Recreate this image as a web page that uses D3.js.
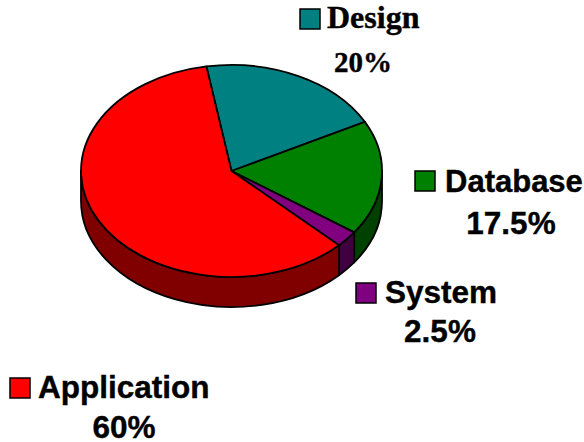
<!DOCTYPE html>
<html><head><meta charset="utf-8">
<script src="https://cdn.jsdelivr.net/npm/d3@7"></script>
<style>html,body{margin:0;padding:0;background:#fff;}svg{display:block;}</style>
</head><body>
<script>
const categories = ["Design", "Database", "System", "Application"];
const values = [20, 17.5, 2.5, 60];
const percentLabels = ["20%", "17.5%", "2.5%", "60%"];
const topColors = ["#008080", "#008000", "#800080", "#FF0000"];
const sideColors = ["#004040", "#004000", "#400040", "#800000"];

// label layout (styling, not data)
const serif = "'Liberation Serif','Times New Roman',serif";
const sans = "'Liberation Sans',Arial,sans-serif";
const labelLayout = [
  {sq:[300,9], tx:327, ty:28, px:363, py:72, font:serif, fs:32, pfs:29},
  {sq:[415,171], tx:445, ty:192, px:511, py:234, font:sans, fs:31, pfs:31.5},
  {sq:[356,283], tx:385, ty:303, px:440, py:342, font:sans, fs:31.5, pfs:31.5},
  {sq:[10,378], tx:38, ty:398, px:124, py:438, font:sans, fs:31.5, pfs:31.5}
];

const W = 584, H = 442;
const cx = 231.5, cy = 171, rx = 150.5, ry = 106, depth = 30;
const start = -9.6 * Math.PI / 180;

const svg = d3.select("body").append("svg").attr("width", W).attr("height", H);

const pie = d3.pie().sort(null).value(d => d).startAngle(start).endAngle(start + 2 * Math.PI);
const arcs = pie(values);

const pt = (a, dy = 0) => [cx + rx * Math.sin(a), cy - ry * Math.cos(a) + dy];
const P = p => p[0].toFixed(2) + "," + p[1].toFixed(2);

// side walls
const g = svg.append("g");
arcs.forEach((d, i) => {
  const lo = Math.max(d.startAngle, Math.PI / 2);
  const hi = Math.min(d.endAngle, 3 * Math.PI / 2);
  if (lo >= hi) return;
  const path = `M${P(pt(lo))}A${rx},${ry} 0 0 1 ${P(pt(hi))}L${P(pt(hi, depth))}A${rx},${ry} 0 0 0 ${P(pt(lo, depth))}Z`;
  g.append("path").attr("d", path).attr("fill", sideColors[i])
    .attr("stroke", "#000").attr("stroke-width", 1.8).attr("stroke-linejoin", "round");
});

// top faces
arcs.forEach((d, i) => {
  const large = (d.endAngle - d.startAngle) > Math.PI ? 1 : 0;
  const path = `M${cx},${cy}L${P(pt(d.startAngle))}A${rx},${ry} 0 ${large} 1 ${P(pt(d.endAngle))}Z`;
  g.append("path").attr("d", path).attr("fill", topColors[i])
    .attr("stroke", "#000").attr("stroke-width", 1.8).attr("stroke-linejoin", "round");
});

// labels
categories.forEach((c, i) => {
  const L = labelLayout[i];
  svg.append("rect").attr("x", L.sq[0]).attr("y", L.sq[1]).attr("width", 20).attr("height", 20)
    .attr("fill", topColors[i]).attr("stroke", "#000").attr("stroke-width", 1.5);
  svg.append("text").attr("x", L.tx).attr("y", L.ty).text(c)
    .attr("font-family", L.font).attr("font-weight", "bold").attr("font-size", L.fs)
    .attr("fill", "#000").attr("stroke", "#000").attr("stroke-width", 0.4);
  svg.append("text").attr("x", L.px).attr("y", L.py).text(percentLabels[i]).attr("text-anchor", "middle")
    .attr("font-family", L.font).attr("font-weight", "bold").attr("font-size", L.pfs)
    .attr("fill", "#000").attr("stroke", "#000").attr("stroke-width", 0.4);
});
</script>
</body></html>
